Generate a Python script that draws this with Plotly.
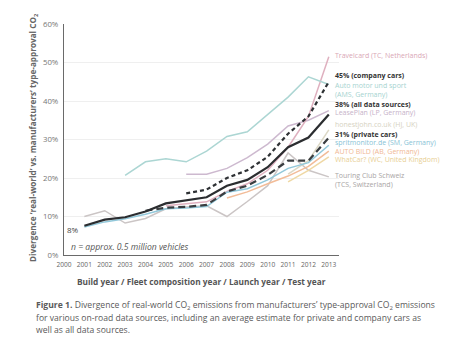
import plotly.graph_objects as go

years = list(range(2001, 2014))
x_ticks = list(range(2000, 2014))

all_sources = [7.6, 9.2, 9.8, 11.3, 13.4, 14.3, 15.0, 18.0, 19.5, 22.8, 28.0, 30.5, 36.5]
company_cars = [None, None, None, None, None, 16.0, 17.0, 20.0, 22.0, 25.5, 31.5, 36.0, 45.0]
private_cars = [None, None, None, 11.5, 12.3, 12.5, 13.0, 16.5, 18.0, 20.8, 24.5, 24.5, 30.5]
spritmonitor = [7.3, 8.6, 9.4, 10.6, 12.0, 12.2, 12.6, 16.3, 17.2, 19.5, 22.5, 24.0, 28.5]
ams = [None, None, 20.7, 24.2, 25.0, 24.2, 27.0, 30.8, 32.0, 36.5, 41.0, 46.3, 44.3]
travelcard = [None, None, None, None, 12.8, 13.3, 13.8, 16.5, 18.5, 22.0, 28.0, 36.0, 51.5]
leaseplan = [None, None, None, None, None, 21.0, 21.0, 22.5, 25.3, 28.8, 33.5, 35.0, 37.5]
honestjohn = [None, None, None, None, None, None, None, None, None, None, 21.0, 24.5, 32.5]
autobild = [None, None, None, None, None, None, None, 14.8, 16.4, 18.5, 20.5, 23.0, 27.0]
whatcar = [None, None, None, None, None, None, None, None, None, None, 19.0, 22.0, 25.5]
tcs = [10.0, 11.5, 8.3, 9.5, 12.0, 12.5, 12.8, 10.0, 13.9, 18.0, 26.5, 22.0, 20.3]

y_ticks = [0, 10, 20, 30, 40, 50, 60]
y_ticktext = ["0%", "10%", "20%", "30%", "40%", "50%", "60%"]

FONT = "Open Sans"
W, H = 450, 341
L, R, T, B = 64, 111, 24, 86
PW, PH = W - L - R, H - T - B


def px(xp):
    return (xp - L) / PW


def py(yp):
    return (H - B - yp) / PH


fig = go.Figure()

light_series = [
    (tcs, "#cbc5c5"),
    (whatcar, "#efd8a4"),
    (autobild, "#f2bc98"),
    (honestjohn, "#dcd8c6"),
    (leaseplan, "#cdb9cf"),
    (travelcard, "#dfb0bf"),
    (ams, "#acd6d3"),
    (spritmonitor, "#92c8da"),
]
for vals, col in light_series:
    fig.add_trace(go.Scatter(x=years, y=vals, mode="lines",
                             line=dict(color=col, width=1.5), hoverinfo="skip"))

fig.add_trace(go.Scatter(x=years, y=private_cars, mode="lines",
                         line=dict(color="#3a3d40", width=2.2, dash="7px,4px")))
fig.add_trace(go.Scatter(x=years, y=company_cars, mode="lines",
                         line=dict(color="#2e3134", width=2.2, dash="4px,3px")))
fig.add_trace(go.Scatter(x=years, y=all_sources, mode="lines",
                         line=dict(color="#2b2d30", width=2.2)))

fig.update_layout(
    width=W, height=H,
    margin=dict(l=L, r=R, t=T, b=B, pad=0),
    paper_bgcolor="white", plot_bgcolor="white",
    showlegend=False,
    font=dict(family=FONT, color="#555"),
    xaxis=dict(range=[2000, 2013.5], tickvals=x_ticks, ticktext=[str(v) for v in x_ticks],
               tickfont=dict(size=6.6, color="#666", family=FONT),
               showline=True, linecolor="#6a6a6a", linewidth=1.2,
               showgrid=False, zeroline=False, ticks="", ticklen=0,
               ticklabelstandoff=3),
    yaxis=dict(range=[0, 60], tickvals=y_ticks, ticktext=y_ticktext,
               tickfont=dict(size=7.8, color="#777", family=FONT),
               showline=True, linecolor="#6a6a6a", linewidth=1.2,
               gridcolor="#efefef", gridwidth=1, zeroline=False, ticks="", ticklen=0,
               ticklabelstandoff=3),
)

ann = []


def add(text, xp, yp, size=7.0, color="#555", bold=False, italic=False, anchor="left", angle=0):
    t = text
    if bold:
        t = "<b>" + t + "</b>"
    if italic:
        t = "<i>" + t + "</i>"
    ann.append(dict(text=t, x=px(xp), y=py(yp), xref="paper", yref="paper",
                    xanchor=anchor, yanchor="middle", showarrow=False, textangle=angle,
                    align="left", font=dict(size=size, color=color, family=FONT)))


LX = 333
add("Travelcard (TC, Netherlands)", LX, 56, color="#d9a7b6")
add("45% (company cars)", LX, 75.6, color="#333", bold=True)
add("Auto motor und sport<br>(AMS, Germany)", LX, 89.6, color="#a6d3d0")
add("38% (all data sources)", LX, 104.0, color="#333", bold=True)
add("LeasePlan (LP, Germany)", LX, 112.8, color="#c6b2c9")
add("honestjohn.co.uk (HJ, UK)", LX, 124.3, color="#d6d2c2")
add("31% (private cars)", LX, 134.5, color="#333", bold=True)
add("spritmonitor.de (SM, Germany)", LX, 142.5, color="#88c3d6")
add("AUTO BILD (AB, Germany)", LX, 151, color="#f0b894")
add("WhatCar? (WC, United Kingdom)", LX, 159.5, color="#e8cf95")
add("Touring Club Schweiz<br>(TCS, Switzerland)", LX, 179.5, color="#a9a5a5")

add("8%", 72.7, 229, size=8, color="#444", anchor="center")
add("n = approx. 0.5 million vehicles", 69, 247, size=8.6, color="#555", italic=True)

add("Divergence ‘real-world’ vs. manufacturers’ type-approval CO<sub>2</sub>", 33, 138,
    size=8.2, color="#666", bold=True, anchor="center", angle=-90)
add("Build year / Fleet composition year / Launch year / Test year", 201, 281,
    size=8.3, color="#555", bold=True, anchor="center")

add("<b>Figure 1.</b> Divergence of real-world CO<sub>2</sub> emissions from manufacturers’ type-approval CO<sub>2</sub> emissions",
    34, 305, size=8.6, color="#5a5a5a")
add("for various on-road data sources, including an average estimate for private and company cars as",
    34, 317.7, size=8.6, color="#5a5a5a")
add("well as all data sources.", 34, 330, size=8.6, color="#5a5a5a")

fig.update_layout(annotations=ann)
fig.write_html("out.html")
